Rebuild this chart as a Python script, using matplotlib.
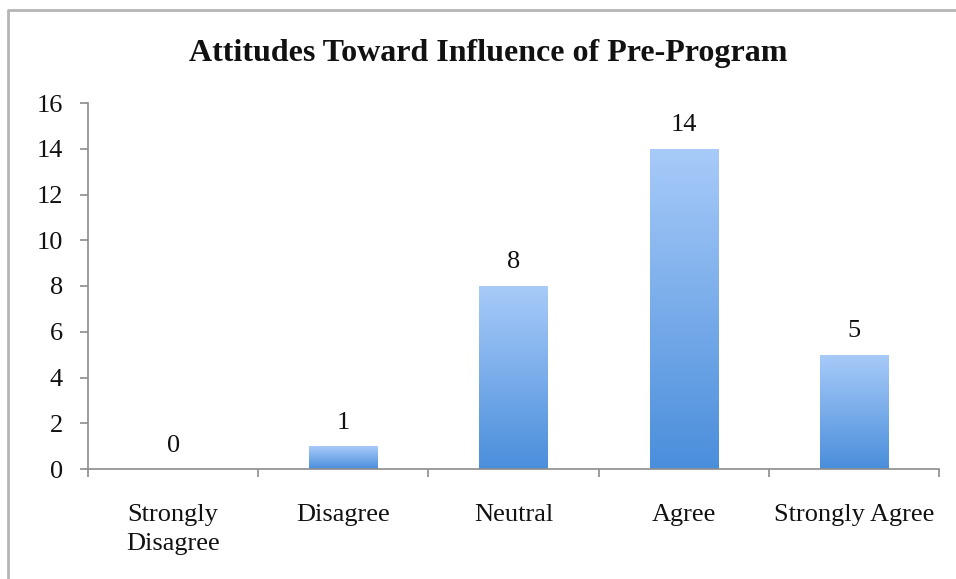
import numpy as np
import matplotlib
matplotlib.use("Agg")
import matplotlib.pyplot as plt
from matplotlib.colors import LinearSegmentedColormap
from matplotlib.lines import Line2D

categories = ["Strongly\nDisagree", "Disagree", "Neutral", "Agree", "Strongly Agree"]
counts = [0, 1, 8, 14, 5]
y_ticks = [0, 2, 4, 6, 8, 10, 12, 14, 16]
title = "Attitudes Toward Influence of Pre-Program"

plt.rcParams["font.family"] = ["Liberation Serif", "DejaVu Serif"]

W, H = 956, 579
fig = plt.figure(figsize=(W / 100, H / 100), dpi=100)
ax = fig.add_axes([88 / W, 1 - 469 / H, (939 - 88) / W, (469 - 103) / H])

x = np.arange(len(categories))
bars = ax.bar(x, counts, width=0.4, color="none", edgecolor="none", zorder=2)

# vertical gradient fill inside each bar: light at top, deeper blue at bottom
grad_cmap = LinearSegmentedColormap.from_list("bar", ["#4a8edb", "#a8cbf9"])
grad = np.linspace(0, 1, 256).reshape(-1, 1)
for b in bars:
    h = b.get_height()
    if h <= 0:
        continue
    x0 = b.get_x()
    im = ax.imshow(grad, cmap=grad_cmap, aspect="auto", origin="lower",
                   extent=[x0, x0 + b.get_width(), 0, h], zorder=2)
    im.set_clip_path(b)

for xi, v in zip(x, counts):
    ax.annotate(str(v), (xi, v), xytext=(0, 9), textcoords="offset points",
                ha="center", va="bottom", fontsize=19, color="#111111")

ax.set_xlim(-0.5, len(categories) - 0.5)
ax.set_ylim(0, 16)
ax.set_yticks(y_ticks)
ax.set_xticks(x)
ax.set_xticklabels(categories, linespacing=1.4)
ax.set_xticks(np.arange(len(categories) + 1) - 0.5, minor=True)

for s in ["top", "right"]:
    ax.spines[s].set_visible(False)
for s in ["left", "bottom"]:
    ax.spines[s].set_color("#8c8c8c")
    ax.spines[s].set_linewidth(1.2)

ax.tick_params(axis="y", length=6, width=1.2, color="#8c8c8c", pad=12,
               labelsize=19, labelcolor="#111111")
ax.tick_params(axis="x", which="major", length=0, pad=25,
               labelsize=19, labelcolor="#111111")
ax.tick_params(axis="x", which="minor", length=6, width=1.2, color="#8c8c8c")

fig.text(488 / W, 1 - 54 / H, title, ha="center", va="center",
         fontsize=23, fontweight="bold", color="#111111")

# outer chart frame (top and left edges)
fx = 8 / W
fy = 1 - 10 / H
fig.add_artist(Line2D([fx, fx, 1.01], [-0.01, fy, fy], transform=fig.transFigure,
                      color="#b5b5b5", linewidth=2))

fig.savefig("out.png", dpi=100)
